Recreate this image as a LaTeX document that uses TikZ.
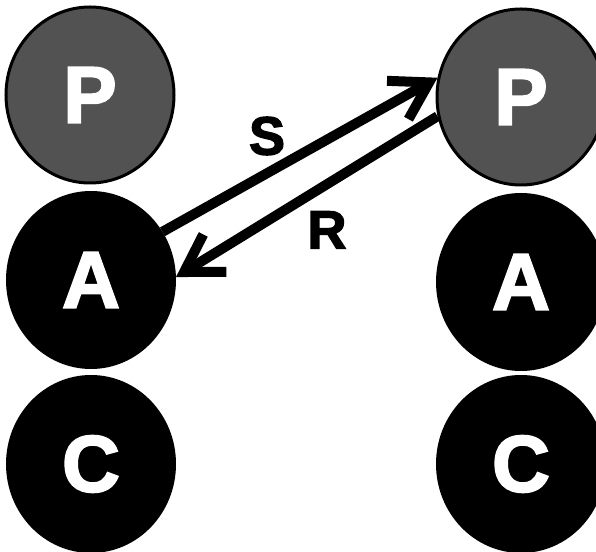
\documentclass[tikz,border=0pt]{standalone}
\usepackage{fontspec}
\setsansfont{Liberation Sans}[BoldFeatures={FakeBold=2.5}]
\usepackage{tikz}
\usetikzlibrary{arrows.meta,shapes.geometric}

\begin{document}
\begin{tikzpicture}[x=1pt,y=1pt,>={Straight Barb[length=36pt,width=44pt]},
    ball/.style={ellipse,fill=black,draw=black,line width=2pt,minimum width=168pt,
      minimum height=176pt,inner sep=0pt,text=white,
      font=\sffamily\bfseries\fontsize{80}{80}\selectfont},
    pball/.style={ball,fill=black!68,draw=black,line width=3pt},
    msg/.style={->,line width=10pt},
    lbl/.style={font=\sffamily\bfseries\fontsize{54}{54}\selectfont}]
  \useasboundingbox (0,0) rectangle (596,551);
  \clip (0,0) rectangle (596,551);
  % left column
  \node[pball] (lP) at (90,456) {P};
  \node[ball] (lA) at (91,271) {A};
  \node[ball] (lC) at (91,87) {C};
  % right column
  \node[pball] (rP) at (521,454) {P};
  \node[ball] (rA) at (521,269) {A};
  \node[ball] (rC) at (521,87) {C};
  % messages
  \draw[msg] (lA.34) -- (rP.167);
  \draw[msg] (rP.193) -- (lA.2);
  \node[lbl] (s) at (267,415) {S};
  \node[lbl] (r) at (327,321) {R};
\end{tikzpicture}
\end{document}
